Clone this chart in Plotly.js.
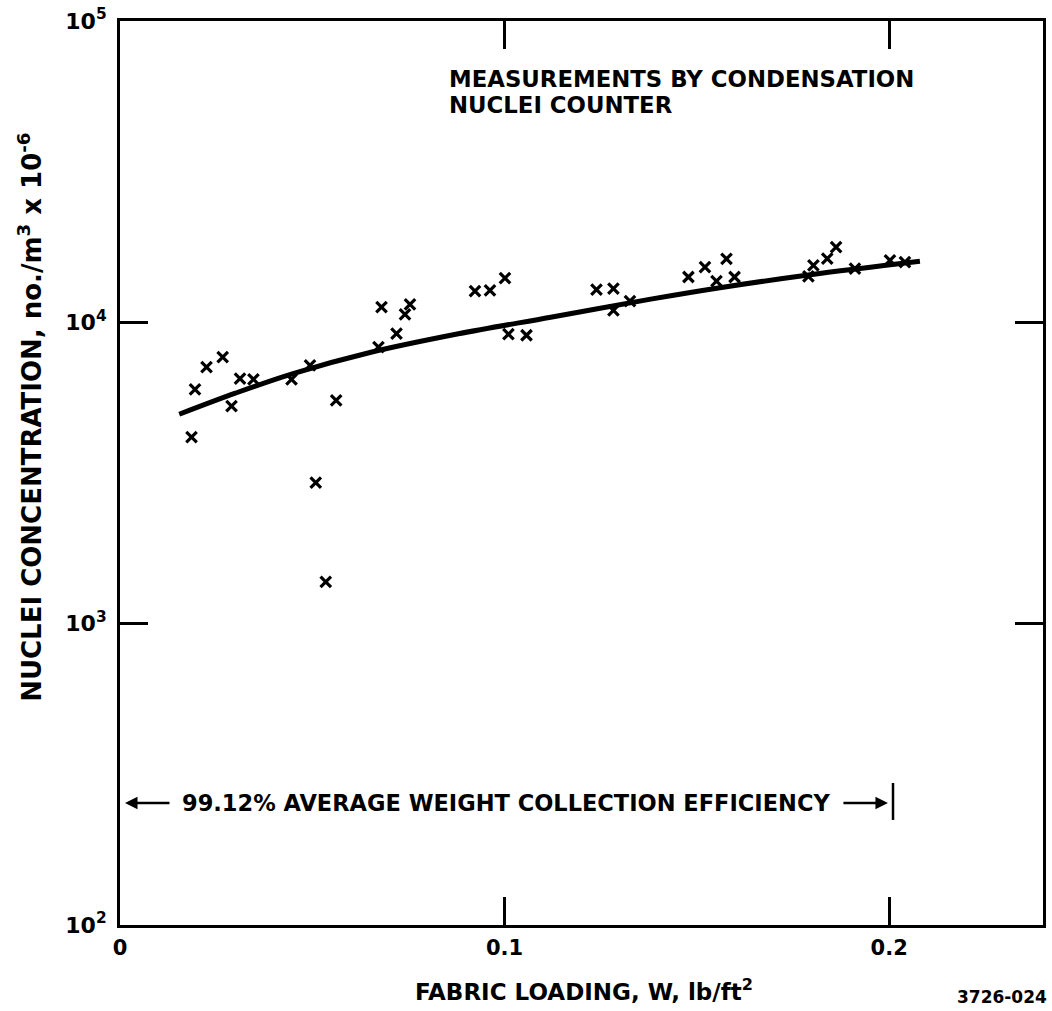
<!DOCTYPE html>
<html>
<head>
<meta charset="utf-8">
<script src="https://cdn.plot.ly/plotly-3.0.1.min.js"></script>
<style>
  html, body { margin: 0; padding: 0; background: #ffffff; }
  #chart { width: 1052px; height: 1011px; }
</style>
</head>
<body>
<div id="chart"></div>
<script>
// Fabric loading (lb/ft^2) for each condensation nuclei counter measurement
const loadingW = [
  0.0186, 0.0195, 0.0225, 0.0267, 0.0290, 0.0312, 0.0347, 0.0446, 0.0494,
  0.0509, 0.0535, 0.0562, 0.0672, 0.0680, 0.0719, 0.0741, 0.0754,
  0.0923, 0.0962, 0.1001, 0.1010, 0.1057, 0.1239, 0.1283, 0.1283, 0.1326,
  0.1478, 0.1521, 0.1551, 0.1577, 0.1598, 0.1790, 0.1803, 0.1839, 0.1862,
  0.1911, 0.2002, 0.2041
];
// Nuclei concentration, no./m^3 x 10^-6
const nucleiConc = [
  4160, 5990, 7100, 7670, 5270, 6500, 6470, 6470, 7200,
  2940, 1375, 5510, 8280, 11240, 9170, 10630, 11470,
  12700, 12770, 14030, 9130, 9060, 12840, 12940, 10960, 11770,
  14140, 15260, 13710, 16250, 14140, 14210, 15460, 16270, 17780,
  15080, 16060, 15850
];

// Smooth trend curve drawn through the measurements
const curveW = [0.0154, 0.030, 0.045, 0.065, 0.088, 0.112, 0.138, 0.156, 0.179, 0.208];
const curveConc = [4955, 5820, 6760, 7940, 9160, 10400, 11940, 13030, 14360, 15940];

// Axis ticks
const xTickVals = [0, 0.1, 0.2];
const xTickText = ['0', '0.1', '0.2'];
const yTickVals = [100, 1000, 10000, 100000];
const yTickText = ['10<sup>2</sup>', '10<sup>3</sup>', '10<sup>4</sup>', '10<sup>5</sup>'];

const FONT = 'DejaVu Sans, Liberation Sans, Arial, sans-serif';

const traces = [
  {
    x: curveW, y: curveConc,
    type: 'scatter', mode: 'lines',
    line: { color: '#000', width: 5, shape: 'spline', smoothing: 1 },
    hoverinfo: 'skip'
  },
  {
    x: loadingW, y: nucleiConc,
    type: 'scatter', mode: 'markers',
    marker: { symbol: 'x-thin-open', size: 10.5, color: '#000', line: { color: '#000', width: 3.2 } }
  }
];

const axisCommon = {
  showline: true, linecolor: '#000', linewidth: 3,
  mirror: 'ticks', ticks: 'inside', ticklen: 28, tickwidth: 3, tickcolor: '#000',
  showgrid: false, zeroline: false
};

const layout = {
  width: 1052, height: 1011,
  margin: { l: 120, r: 9, t: 21, b: 86 },
  paper_bgcolor: '#fff', plot_bgcolor: '#fff',
  showlegend: false,
  xaxis: Object.assign({}, axisCommon, {
    type: 'linear', range: [0, 0.24],
    tickmode: 'array', tickvals: xTickVals, ticktext: xTickText,
    ticklabelstandoff: 2,
    tickfont: { family: FONT, size: 21, color: '#000', weight: 'bold' }
  }),
  yaxis: Object.assign({}, axisCommon, {
    type: 'log', range: [2, 5],
    tickmode: 'array', tickvals: yTickVals, ticktext: yTickText,
    ticklabelstandoff: 6,
    tickfont: { family: FONT, size: 22, color: '#000', weight: 'bold' }
  }),
  annotations: [
    {
      text: 'MEASUREMENTS BY CONDENSATION',
      xref: 'paper', yref: 'paper', x: 0.354, y: 0.9353,
      xanchor: 'left', yanchor: 'middle', align: 'left', showarrow: false,
      font: { family: FONT, size: 22.8, color: '#000', weight: 'bold' }
    },
    {
      text: 'NUCLEI COUNTER',
      xref: 'paper', yref: 'paper', x: 0.354, y: 0.9076,
      xanchor: 'left', yanchor: 'middle', align: 'left', showarrow: false,
      font: { family: FONT, size: 22.8, color: '#000', weight: 'bold' }
    },
    {
      text: '99.12% AVERAGE WEIGHT COLLECTION EFFICIENCY',
      xref: 'paper', yref: 'paper', x: 0.0645, y: 0.135,
      xanchor: 'left', yanchor: 'middle', showarrow: false,
      font: { family: FONT, size: 22.5, color: '#000', weight: 'bold' }
    },
    {
      text: '', xref: 'paper', yref: 'paper', x: 0.0054, y: 0.135,
      showarrow: true, axref: 'pixel', ayref: 'pixel', ax: 46, ay: 0,
      arrowhead: 2, arrowsize: 1, arrowwidth: 2.5, arrowcolor: '#000'
    },
    {
      text: '', xref: 'paper', yref: 'paper', x: 0.832, y: 0.135,
      showarrow: true, axref: 'pixel', ayref: 'pixel', ax: -46, ay: 0,
      arrowhead: 2, arrowsize: 1, arrowwidth: 2.5, arrowcolor: '#000'
    },
    {
      text: 'FABRIC LOADING, W, lb/ft<sup>2</sup>',
      xref: 'paper', yref: 'paper', x: 0.503, y: -0.072,
      xanchor: 'center', yanchor: 'middle', showarrow: false,
      font: { family: FONT, size: 23, color: '#000', weight: 'bold' }
    },
    {
      text: 'NUCLEI CONCENTRATION, no./m<sup>3</sup> x 10<sup>-6</sup>',
      xref: 'paper', yref: 'paper', x: -0.0975, y: 0.561,
      xanchor: 'center', yanchor: 'middle', textangle: -90, showarrow: false,
      font: { family: FONT, size: 26, color: '#000', weight: 'bold' }
    },
    {
      text: '3726-024',
      xref: 'paper', yref: 'paper', x: 0.956, y: -0.0796,
      xanchor: 'center', yanchor: 'middle', showarrow: false,
      font: { family: FONT, size: 17, color: '#000', weight: 'bold' }
    }
  ],
  shapes: [
    {
      type: 'line', xref: 'paper', yref: 'paper',
      x0: 0.8375, x1: 0.8375, y0: 0.1162, y1: 0.1571,
      line: { color: '#000', width: 2.5 }
    }
  ]
};

Plotly.newPlot('chart', traces, layout, { displayModeBar: false, staticPlot: true });
</script>
</body>
</html>
